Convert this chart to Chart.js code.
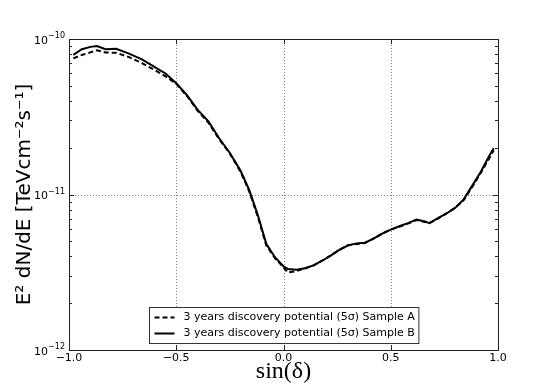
<!DOCTYPE html>
<html>
<head>
<meta charset="utf-8">
<script src="https://cdn.jsdelivr.net/npm/chart.js@4/dist/chart.umd.min.js"></script>
<style>
  html, body { margin: 0; padding: 0; background: #fff; }
  #wrap { width: 554px; height: 388px; }
</style>
</head>
<body>
<div id="wrap"><canvas id="sensChart" width="554" height="388"></canvas></div>
<script>
// sin(declination) sample points
const sinDec = [-0.98, -0.94, -0.90, -0.87, -0.83, -0.78, -0.72, -0.66, -0.60, -0.55,
  -0.50, -0.45, -0.40, -0.35, -0.30, -0.25, -0.20, -0.16, -0.12, -0.08,
  -0.04, 0.00, 0.02, 0.06, 0.10, 0.14, 0.18, 0.22, 0.26, 0.30,
  0.34, 0.38, 0.42, 0.46, 0.50, 0.54, 0.58, 0.62, 0.66, 0.68,
  0.72, 0.76, 0.80, 0.84, 0.88, 0.92, 0.96, 0.98];

// Sample A (dashed)
const sampleA = [7.5e-11, 7.9e-11, 8.2e-11, 8.45e-11, 8.2e-11, 8.15e-11, 7.65e-11, 7.0e-11, 6.3e-11, 5.75e-11,
  5.15e-11, 4.3e-11, 3.45e-11, 2.9e-11, 2.27e-11, 1.83e-11, 1.40e-11, 1.05e-11, 7.2e-12, 4.7e-12,
  3.9e-12, 3.4e-12, 3.15e-12, 3.22e-12, 3.34e-12, 3.5e-12, 3.75e-12, 4.05e-12, 4.4e-12, 4.72e-12,
  4.8e-12, 4.88e-12, 5.22e-12, 5.6e-12, 5.95e-12, 6.2e-12, 6.5e-12, 6.85e-12, 6.65e-12, 6.55e-12,
  7.0e-12, 7.55e-12, 8.2e-12, 9.2e-12, 1.12e-11, 1.38e-11, 1.72e-11, 1.92e-11];

// Sample B (solid)
const sampleB = [7.9e-11, 8.6e-11, 8.9e-11, 9.0e-11, 8.6e-11, 8.65e-11, 8.05e-11, 7.4e-11, 6.6e-11, 6.0e-11,
  5.2e-11, 4.35e-11, 3.5e-11, 2.95e-11, 2.3e-11, 1.85e-11, 1.42e-11, 1.07e-11, 7.4e-12, 4.8e-12,
  3.95e-12, 3.45e-12, 3.32e-12, 3.28e-12, 3.36e-12, 3.5e-12, 3.75e-12, 4.05e-12, 4.4e-12, 4.7e-12,
  4.85e-12, 4.9e-12, 5.2e-12, 5.6e-12, 5.95e-12, 6.25e-12, 6.55e-12, 6.9e-12, 6.7e-12, 6.55e-12,
  7.05e-12, 7.55e-12, 8.2e-12, 9.3e-12, 1.14e-11, 1.40e-11, 1.78e-11, 1.98e-11];

const seriesLabels = ['3 years discovery potential (5σ) Sample A', '3 years discovery potential (5σ) Sample B'];

// axis ticks
const xTicks = [-1.0, -0.5, 0.0, 0.5, 1.0];
const yTicks = [1e-12, 1e-11, 1e-10];
const yMinor = [2e-12, 3e-12, 4e-12, 5e-12, 6e-12, 7e-12, 8e-12, 9e-12,
  2e-11, 3e-11, 4e-11, 5e-11, 6e-11, 7e-11, 8e-11, 9e-11];

const toPoints = arr => arr.map((y, i) => ({ x: sinDec[i], y: y }));

// frame, grid, inner ticks, 10^n labels and legend, matplotlib style
const framePlugin = {
  id: 'frame',
  beforeDatasetsDraw(chart) {
    const { ctx, chartArea: a, scales: { x, y } } = chart;
    ctx.save();
    ctx.strokeStyle = 'rgba(0,0,0,0.5)';
    ctx.lineWidth = 1;
    ctx.setLineDash([1, 2]);
    xTicks.slice(1, -1).forEach(v => {
      const px = Math.round(x.getPixelForValue(v)) + 0.5;
      ctx.beginPath(); ctx.moveTo(px, a.top); ctx.lineTo(px, a.bottom); ctx.stroke();
    });
    yTicks.slice(1, -1).forEach(v => {
      const py = Math.round(y.getPixelForValue(v)) + 0.5;
      ctx.beginPath(); ctx.moveTo(a.left, py); ctx.lineTo(a.right, py); ctx.stroke();
    });
    ctx.restore();
  },
  afterDatasetsDraw(chart) {
    const { ctx, chartArea: a, scales: { x, y } } = chart;
    ctx.save();
    ctx.strokeStyle = '#222';
    ctx.lineWidth = 1;
    ctx.setLineDash([]);
    ctx.strokeRect(Math.round(a.left) + 0.5, Math.round(a.top) + 0.5,
      Math.round(a.right - a.left), Math.round(a.bottom - a.top));
    // ticks
    ctx.beginPath();
    xTicks.slice(1, -1).forEach(v => {
      const px = Math.round(x.getPixelForValue(v)) + 0.5;
      ctx.moveTo(px, a.bottom); ctx.lineTo(px, a.bottom - 5);
      ctx.moveTo(px, a.top); ctx.lineTo(px, a.top + 5);
    });
    yTicks.slice(1, -1).forEach(v => {
      const py = Math.round(y.getPixelForValue(v)) + 0.5;
      ctx.moveTo(a.left, py); ctx.lineTo(a.left + 5, py);
      ctx.moveTo(a.right, py); ctx.lineTo(a.right - 5, py);
    });
    yMinor.forEach(v => {
      const py = Math.round(y.getPixelForValue(v)) + 0.5;
      ctx.moveTo(a.left, py); ctx.lineTo(a.left + 3, py);
      ctx.moveTo(a.right, py); ctx.lineTo(a.right - 3, py);
    });
    ctx.stroke();

    // y tick labels as 10 with a raised exponent
    ctx.fillStyle = '#000';
    ctx.textAlign = 'right';
    yTicks.forEach(v => {
      const py = y.getPixelForValue(v);
      const ex = String(Math.round(Math.log10(v))).replace('-', '−');
      ctx.font = '8px "DejaVu Sans"';
      const ew = ctx.measureText(ex).width;
      ctx.textBaseline = 'alphabetic';
      ctx.fillText(ex, a.left - 4, py - 1);
      ctx.font = '11px "DejaVu Sans"';
      ctx.textBaseline = 'middle';
      ctx.fillText('10', a.left - 4 - ew, py + 2);
    });

    // legend, lower center
    ctx.font = '11px "DejaVu Sans"';
    const tw = Math.max(...seriesLabels.map(t => ctx.measureText(t).width));
    const boxW = 34 + tw + 4;
    const boxH = 36;
    const bx = Math.round((a.left + a.right) / 2 - boxW / 2) + 0.5;
    const by = Math.round(a.bottom - 7 - boxH) + 0.5;
    ctx.fillStyle = '#fff';
    ctx.fillRect(bx, by, boxW, boxH);
    ctx.strokeStyle = '#333';
    ctx.lineWidth = 1;
    ctx.strokeRect(bx, by, boxW, boxH);
    chart.data.datasets.forEach((ds, i) => {
      const ly = by + 10 + i * 16;
      ctx.strokeStyle = '#000';
      ctx.lineWidth = 2;
      ctx.setLineDash(ds.borderDash || []);
      ctx.beginPath(); ctx.moveTo(bx + 5, ly); ctx.lineTo(bx + 25, ly); ctx.stroke();
      ctx.setLineDash([]);
      ctx.fillStyle = '#000';
      ctx.textBaseline = 'middle';
      ctx.textAlign = 'left';
      ctx.fillText(ds.label, bx + 34, ly);
    });
    ctx.restore();
  }
};

new Chart(document.getElementById('sensChart'), {
  type: 'line',
  data: {
    datasets: [
      {
        label: seriesLabels[0],
        data: toPoints(sampleA),
        borderColor: '#000',
        borderWidth: 2,
        borderDash: [5, 3],
        pointRadius: 0,
        tension: 0,
        fill: false
      },
      {
        label: seriesLabels[1],
        data: toPoints(sampleB),
        borderColor: '#000',
        borderWidth: 2,
        pointRadius: 0,
        tension: 0,
        fill: false
      }
    ]
  },
  options: {
    responsive: false,
    animation: false,
    layout: { padding: { left: 8, top: 39, right: 56, bottom: 0 } },
    scales: {
      x: {
        type: 'linear',
        min: -1,
        max: 1,
        afterFit: s => { s.height = 38; },
        afterBuildTicks: s => { s.ticks = xTicks.map(v => ({ value: v })); },
        grid: { display: false, drawTicks: false },
        border: { display: false },
        ticks: {
          padding: 2,
          color: '#000',
          font: { family: 'DejaVu Sans', size: 11 },
          autoSkip: false,
          maxRotation: 0,
          callback: v => v.toFixed(1).replace('-', '−')
        },
        title: {
          display: true,
          text: 'sin(δ)',
          color: '#000',
          padding: { top: 0, bottom: 2 },
          font: { family: 'Liberation Serif', size: 24 }
        }
      },
      y: {
        type: 'logarithmic',
        min: 1e-12,
        max: 1e-10,
        afterFit: s => { s.width = 61; },
        afterBuildTicks: s => { s.ticks = yTicks.map(v => ({ value: v })); },
        grid: { display: false, drawTicks: false },
        border: { display: false },
        ticks: {
          display: false
        },
        title: {
          display: true,
          text: 'E² dN/dE [TeVcm⁻²s⁻¹]',
          color: '#000',
          padding: { top: 5, bottom: 0 },
          font: { family: 'DejaVu Sans', size: 20 }
        }
      }
    },
    plugins: {
      legend: { display: false },
      tooltip: { enabled: false }
    }
  },
  plugins: [framePlugin]
});
</script>
</body>
</html>
